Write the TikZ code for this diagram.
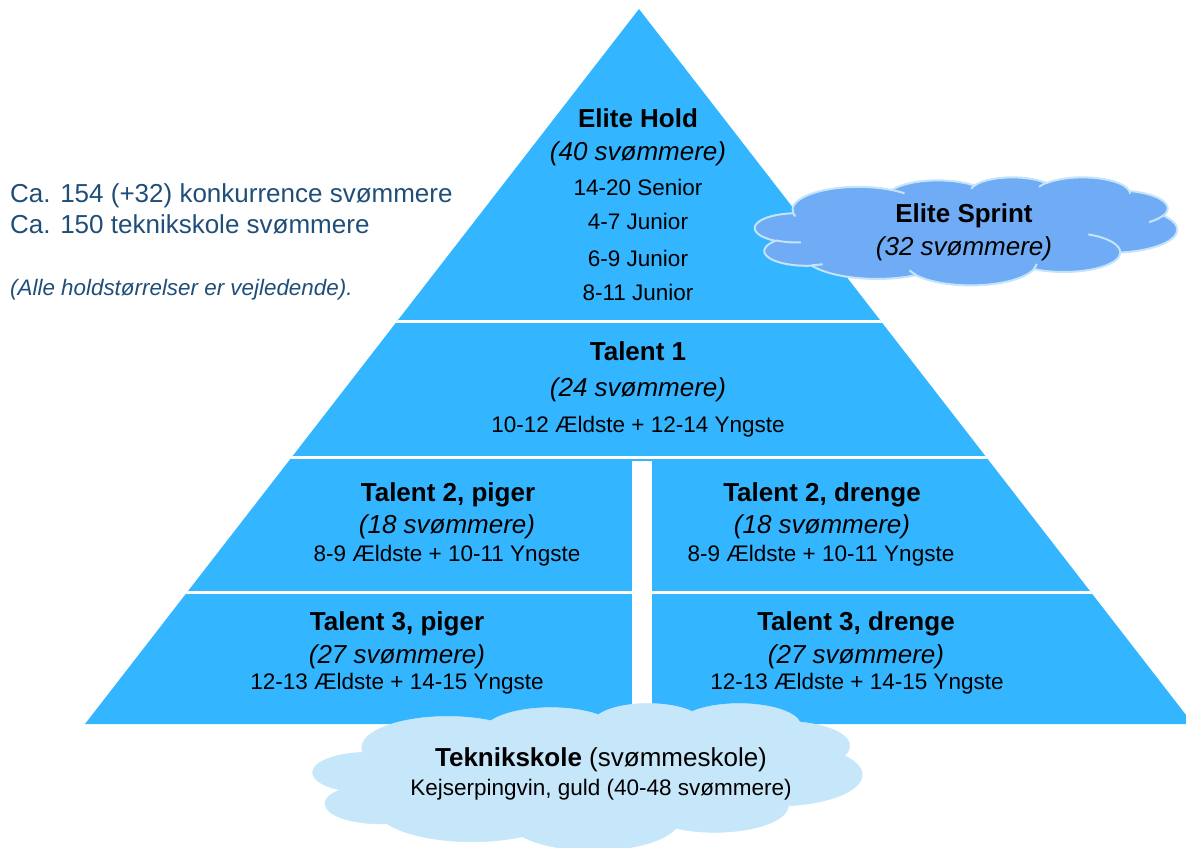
\documentclass[tikz,border=0pt]{standalone}
\usepackage{fontspec}
\setmainfont{Liberation Sans}
\definecolor{pyr}{RGB}{51,181,255}
\definecolor{sprint}{RGB}{112,172,245}
\definecolor{sprintline}{RGB}{195,228,250}
\definecolor{tekn}{RGB}{198,230,250}
\definecolor{leftblue}{RGB}{31,78,121}
\tikzset{
  bigtxt/.style={font=\fontsize{26}{31}\selectfont\bfseries, anchor=base, inner sep=0pt},
  itxt/.style={font=\fontsize{26}{31}\selectfont\itshape, anchor=base, inner sep=0pt},
  smalltxt/.style={font=\fontsize{22.5}{27}\selectfont, anchor=base, inner sep=0pt},
  lefttxt/.style={font=\fontsize{26}{31}\selectfont, text=leftblue, anchor=base west, inner sep=0pt},
  leftitxt/.style={font=\fontsize{22.4}{27}\selectfont\itshape, text=leftblue, anchor=base west, inner sep=0pt},
  sepline/.style={white, line width=3pt},
}
% elliptical arc with DrawingML (visual) angles: wR hR stAng swAng
\newcommand\carc[4]{arc[start angle={atan2((#1)*sin(#3),(#2)*cos(#3))}, delta angle={mod(atan2((#1)*sin((#3)+(#4)),(#2)*cos((#3)+(#4)))-atan2((#1)*sin(#3),(#2)*cos(#3))+720,360)}, x radius=#1, y radius=#2]}
% cloud shape in a 432 x 432 box
\newcommand\pptcloud[3]{%
  \filldraw[fill=#1, draw=#2, line width=#3] (39.00,143.70)
    \carc{67.53}{91.90}{-190.4875}{123.7805}
    \carc{53.33}{72.67}{-144.1024}{89.9452}
    \carc{43.65}{59.45}{-145.8079}{99.7230}
    \carc{48.57}{65.95}{-130.9861}{117.2417}
    \carc{53.33}{72.73}{-78.7089}{109.0269}
    \carc{67.75}{92.20}{-46.2673}{130.2690}
    \carc{57.85}{78.67}{0.6250}{114.0333}
    \carc{67.52}{92.15}{22.4516}{115.1726}
    \carc{77.20}{105.43}{66.2426}{75.7110}
    \carc{43.60}{59.18}{-274.9421}{146.7356}
    \carc{43.45}{59.45}{-246.8285}{152.5251} -- cycle;
  \draw[#2, line width=#3]
    (46.93,261.77) \carc{43.45}{59.45}{86.7420}{26.4295}
    (69.28,348.99) \carc{43.60}{59.18}{73.6105}{11.4475}
    (164.78,390.90) \carc{67.52}{92.15}{137.6242}{14.0811}
    (288.27,347.51) \carc{67.52}{92.15}{6.4533}{15.9984}
    (341.29,229.54) \carc{57.85}{78.67}{-70.2924}{70.9174}
    (417.98,153.54) \carc{53.33}{72.73}{30.3180}{27.7515}
    (383.24,54.26) \carc{48.57}{65.95}{-13.7443}{14.8589}
    (290.78,39.52) \carc{48.57}{65.95}{-149.1815}{18.1954}
    (221.41,47.20) \carc{43.65}{59.45}{-163.4943}{17.6864}
    (140.00,51.92) \carc{67.53}{91.90}{-66.7070}{12.3194}
    (41.27,157.89) \carc{67.53}{91.90}{157.6544}{11.8582};
}
\begin{document}
\begin{tikzpicture}[x=1pt,y=-1pt]
\useasboundingbox (0,0) rectangle (1186,847);
\coordinate (apex) at (639,9);
\coordinate (bl) at (85,724);
\coordinate (br) at (1193,724);
\fill[pyr] (apex) -- (bl) -- (br) -- cycle;
\begin{scope}
  \clip (apex) -- (bl) -- (br) -- cycle;
  \draw[sepline] (0,321) -- (1200,321);
  \draw[sepline] (0,457) -- (1200,457);
  \draw[sepline] (0,592) -- (1200,592);
\end{scope}
\fill[white] (632,461) rectangle (652,724);

% left notes
\node[lefttxt] (n1) at (10,202) {Ca. 154 (+32) konkurrence svømmere};
\node[lefttxt] (n2) at (10,233) {Ca. 150 teknikskole svømmere};
\node[leftitxt] (n3) at (10,295) {(Alle holdstørrelser er vejledende).};

% Elite Hold
\node[bigtxt] (eh) at (638,127) {Elite Hold};
\node[itxt] (ehn) at (638,160) {(40 svømmere)};
\node[smalltxt] (eh1) at (638,195) {14-20 Senior};
\node[smalltxt] (eh2) at (638,229) {4-7 Junior};
\node[smalltxt] (eh3) at (638,266) {6-9 Junior};
\node[smalltxt] (eh4) at (638,300) {8-11 Junior};

% Talent 1
\node[bigtxt] (t1) at (638,360) {Talent 1};
\node[itxt] (t1n) at (638,396) {(24 svømmere)};
\node[smalltxt] (t1a) at (638,432) {10-12 Ældste + 12-14 Yngste};

% Talent 2
\node[bigtxt] (t2p) at (448,501) {Talent 2, piger};
\node[itxt] (t2pn) at (447,533) {(18 svømmere)};
\node[smalltxt] (t2pa) at (447,561) {8-9 Ældste + 10-11 Yngste};
\node[bigtxt] (t2d) at (822,501) {Talent 2, drenge};
\node[itxt] (t2dn) at (822,533) {(18 svømmere)};
\node[smalltxt] (t2da) at (821,561) {8-9 Ældste + 10-11 Yngste};

% Talent 3
\node[bigtxt] (t3p) at (397,630) {Talent 3, piger};
\node[itxt] (t3pn) at (397,663) {(27 svømmere)};
\node[smalltxt] (t3pa) at (397,689) {12-13 Ældste + 14-15 Yngste};
\node[bigtxt] (t3d) at (856,630) {Talent 3, drenge};
\node[itxt] (t3dn) at (856,663) {(27 svømmere)};
\node[smalltxt] (t3da) at (857,689) {12-13 Ældste + 14-15 Yngste};

% Elite Sprint cloud
\begin{scope}[shift={(755,177)}, x=0.97685pt, y=-0.25pt]
  \pptcloud{sprint}{sprintline}{2pt}
\end{scope}
\node[bigtxt] (es) at (964,222) {Elite Sprint};
\node[itxt] (esn) at (964,255) {(32 svømmere)};

% Teknikskole cloud
\begin{scope}[shift={(313,703)}, x=1.2708pt, y=-0.3403pt]
  \pptcloud{tekn}{tekn}{0.5pt}
\end{scope}
\node[anchor=base, inner sep=0pt, font=\fontsize{26}{31}\selectfont] (tk) at (601,766) {\textbf{Teknikskole} (svømmeskole)};
\node[smalltxt] (tka) at (601,795) {Kejserpingvin, guld (40-48 svømmere)};
\end{tikzpicture}
\end{document}
